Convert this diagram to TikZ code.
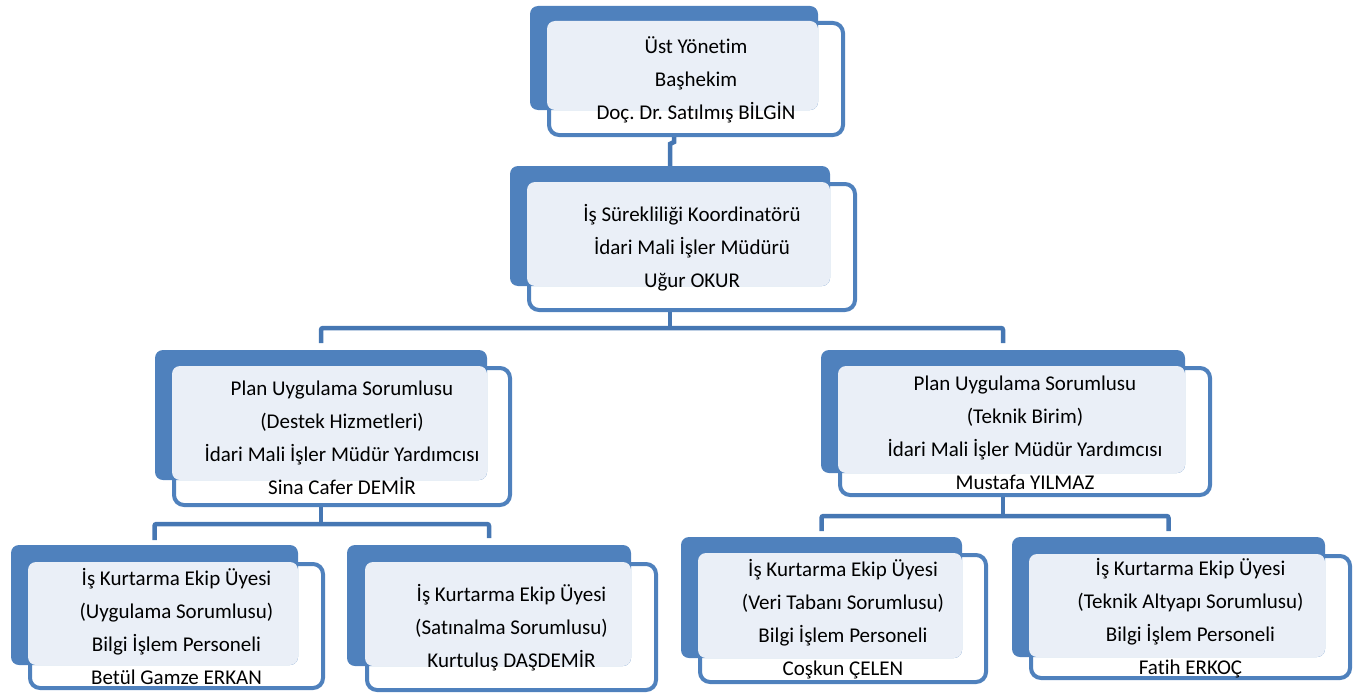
\documentclass[tikz,border=0pt]{standalone}
\usepackage{fontspec}
\setmainfont{Carlito}[Ligatures=NoCommon]
\usetikzlibrary{fit}
\definecolor{accent}{HTML}{4F81BD}
\definecolor{connc}{HTML}{4677B3}
\definecolor{lightfill}{HTML}{EAEFF7}
\pgfdeclarelayer{bg}
\pgfsetlayers{bg,main}
\frenchspacing
\tikzset{
  outl/.style={draw=accent, line width=4pt, fill=white, rounded corners=10pt, inner sep=0pt, outer sep=0pt},
  back/.style={fill=accent, rounded corners=8pt, inner sep=0pt, outer sep=0pt},
  lite/.style={fill=lightfill, rounded corners=8pt, inner sep=0pt, outer sep=0pt},
  lbl/.style={align=center, font=\fontsize{21}{33}\selectfont, inner sep=0pt},
  conn/.style={draw=connc, line width=4.5pt, rounded corners=2pt}
}
\begin{document}
\begin{tikzpicture}[x=1pt,y=-1pt]
\useasboundingbox (0,0) rectangle (1359,693);

% Unit 1
\node[outl, fit={(549,23)(843,135)}] (o1) {};
\node[back, fit={(530,6)(818,110)}] (b1) {};
\node[lite, fit={(547,21)(818,110)}] (l1) {};
\node[lbl] (t1) at ([yshift=-1pt]o1.center) {Üst Yönetim\\Başhekim\\Doç. Dr. Satılmış BİLGİN};

% Unit 2
\node[outl, fit={(529,184)(855,310)}] (o2) {};
\node[back, fit={(510,166)(830,286)}] (b2) {};
\node[lite, fit={(527,182)(830,286)}] (l2) {};
\node[lbl] (t2) at ([yshift=-1pt]o2.center) {İş Sürekliliği Koordinatörü\\İdari Mali İşler Müdürü\\Uğur OKUR};

% Unit 3
\node[outl, fit={(174,368)(510,505)}] (o3) {};
\node[back, fit={(155,350)(487,480)}] (b3) {};
\node[lite, fit={(172,366)(487,480)}] (l3) {};
\node[lbl] (t3) at ([yshift=-1pt]o3.center) {Plan Uygulama Sorumlusu\\(Destek Hizmetleri)\\İdari Mali İşler Müdür Yardımcısı\\Sina Cafer DEMİR};

% Unit 6
\node[outl, fit={(840,368)(1210,495)}] (o6) {};
\node[back, fit={(821,350)(1185,473)}] (b6) {};
\node[lite, fit={(838,366)(1185,473)}] (l6) {};
\node[lbl] (t6) at ([yshift=-1pt]o6.center) {Plan Uygulama Sorumlusu\\(Teknik Birim)\\İdari Mali İşler Müdür Yardımcısı\\Mustafa YILMAZ};

% Unit 4
\node[outl, fit={(30,564)(323,688)}] (o4) {};
\node[back, fit={(11,545)(298,665)}] (b4) {};
\node[lite, fit={(28,562)(298,665)}] (l4) {};
\node[lbl] (t4) at ([yshift=-1pt]o4.center) {İş Kurtarma Ekip Üyesi\\(Uygulama Sorumlusu)\\Bilgi İşlem Personeli\\Betül Gamze ERKAN};

% Unit 5
\node[outl, fit={(367,564)(656,690)}] (o5) {};
\node[back, fit={(347,545)(631,666)}] (b5) {};
\node[lite, fit={(365,562)(631,666)}] (l5) {};
\node[lbl] (t5) at ([yshift=-1pt]o5.center) {İş Kurtarma Ekip Üyesi\\(Satınalma Sorumlusu)\\Kurtuluş DAŞDEMİR};

% Unit 7
\node[outl, fit={(700,555)(986,682)}] (o7) {};
\node[back, fit={(681,537)(962,658)}] (b7) {};
\node[lite, fit={(698,553)(962,658)}] (l7) {};
\node[lbl] (t7) at ([yshift=-1pt]o7.center) {İş Kurtarma Ekip Üyesi\\(Veri Tabanı Sorumlusu)\\Bilgi İşlem Personeli\\Coşkun ÇELEN};

% Unit 8
\node[outl, fit={(1031,556)(1350,678)}] (o8) {};
\node[back, fit={(1012,537)(1325,657)}] (b8) {};
\node[lite, fit={(1029,554)(1325,657)}] (l8) {};
\node[lbl] (t8) at ([yshift=-1pt]o8.center) {İş Kurtarma Ekip Üyesi\\(Teknik Altyapı Sorumlusu)\\Bilgi İşlem Personeli\\Fatih ERKOÇ};

\begin{pgfonlayer}{bg}
  \draw[conn, rounded corners=0pt] (b1.south) -- ([yshift=24pt]b2.north -| b1.south) -- ([yshift=22pt]b2.north) -- (b2.north);
  \draw[conn] (b2.south) -- ([yshift=-42pt]b2.south);
  \draw[conn] ([yshift=7pt]b3.north) |- ([yshift=-42pt]b2.south) -| ([yshift=7pt]b6.north);
  \draw[conn] (b3.south) -- ([yshift=-44pt]b3.south);
  \draw[conn] ([yshift=5pt]b4.north) |- ([yshift=-44pt]b3.south) -| ([yshift=7pt]b5.north);
  \draw[conn] (b6.south) -- ([yshift=-43pt]b6.south);
  \draw[conn] ([yshift=6pt]b7.north) |- ([yshift=-43pt]b6.south) -| ([yshift=6pt]b8.north);
\end{pgfonlayer}
\end{tikzpicture}
\end{document}
